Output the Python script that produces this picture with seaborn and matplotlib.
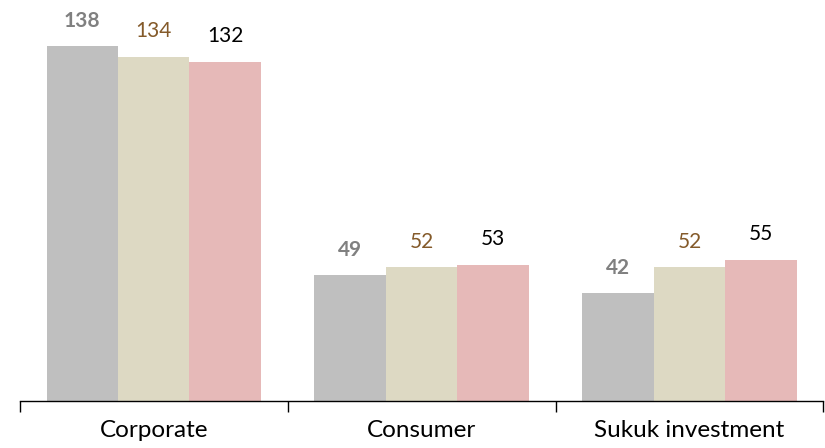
import pandas as pd
import matplotlib.pyplot as plt
import seaborn as sns

# dados do grafico
categorias = ['Corporate', 'Consumer', 'Sukuk investment']
series = ['Series 1', 'Series 2', 'Series 3']
valores_s1 = [138, 49, 42]
valores_s2 = [134, 52, 52]
valores_s3 = [132, 53, 55]

cores = ['#BFBFBF', '#DDD9C3', '#E6B9B8']
cores_rotulo = ['#808080', '#845A2A', '#000000']
peso_rotulo = ['bold', 'normal', 'normal']

df = pd.DataFrame({
    'categoria': categorias * 3,
    'serie': [s for s in series for _ in categorias],
    'valor': valores_s1 + valores_s2 + valores_s3,
})

sns.set_style('white')
plt.rcParams['font.family'] = ['Lato', 'DejaVu Sans']

fig = plt.figure(figsize=(8.25, 4.48), dpi=100)
ax = fig.add_axes([0.024, 0.105, 0.974, 0.895])

sns.barplot(data=df, x='categoria', y='valor', hue='serie', order=categorias,
            hue_order=series, palette=cores, width=0.8, saturation=1,
            edgecolor='none', linewidth=0, legend=False, ax=ax)

for i, cont in enumerate(ax.containers):
    ax.bar_label(cont, padding=11, color=cores_rotulo[i], fontweight=peso_rotulo[i],
                 fontsize=15)

ax.set_xlim(-0.5, 2.5)
ax.set_ylim(0, 156)
ax.set_xlabel('')
ax.set_ylabel('')
ax.set_yticks([])
for lado in ['top', 'right', 'left']:
    ax.spines[lado].set_visible(False)
ax.spines['bottom'].set_color('#000000')
ax.spines['bottom'].set_linewidth(1.0)

ax.set_xticks([-0.5, 0.5, 1.5, 2.5], minor=True)
ax.tick_params(axis='x', which='minor', length=8, width=1, color='#000000', direction='out')
ax.tick_params(axis='x', which='major', length=0, pad=14, labelsize=17.5, labelcolor='#000000')
ax.xaxis.set_ticks_position('bottom')

fig.savefig('out.png', dpi=100)
